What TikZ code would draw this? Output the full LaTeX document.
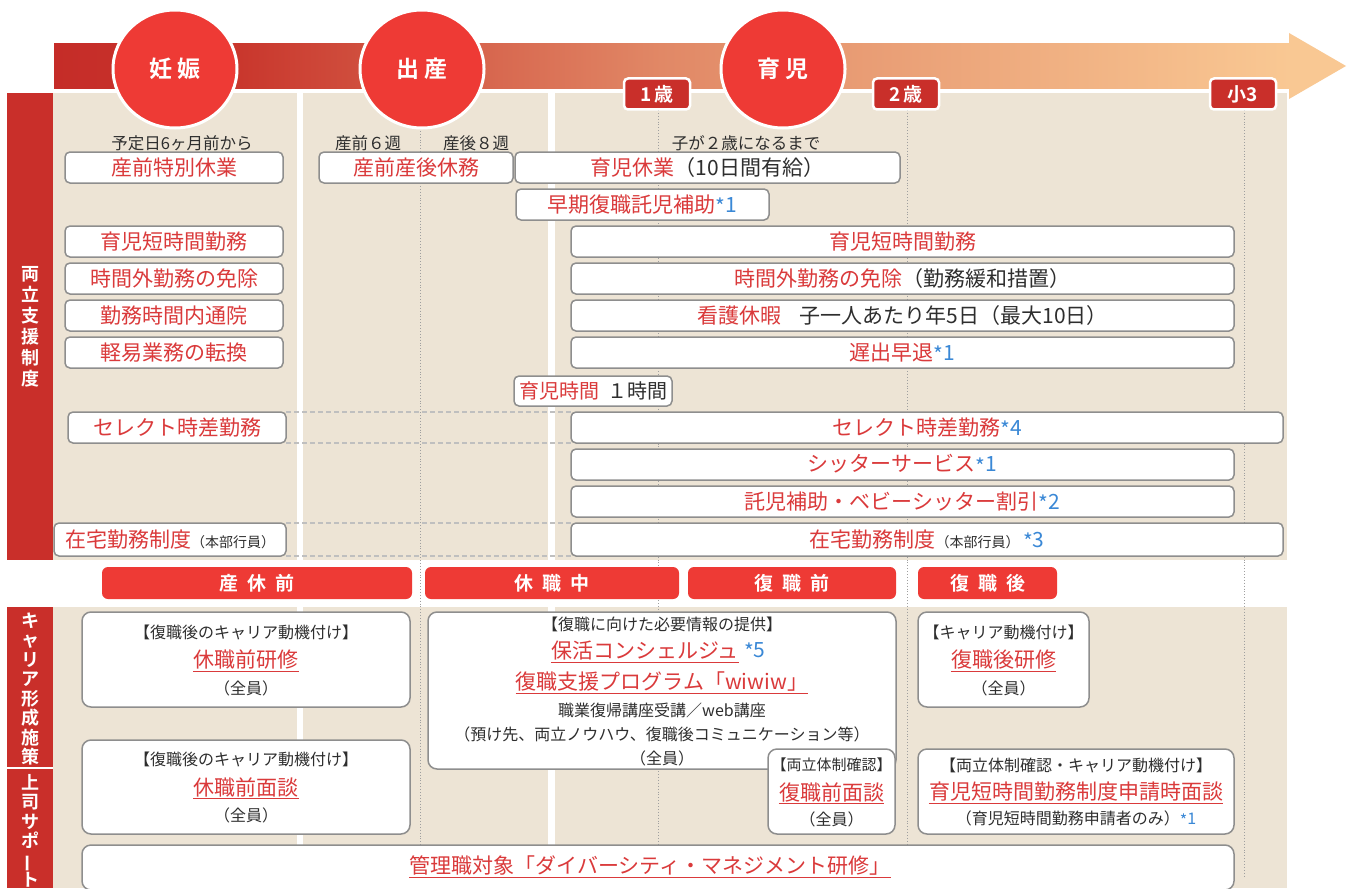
\documentclass[tikz,border=0pt]{standalone}
\usepackage{fontspec}
\usepackage{graphicx}
\setmainfont{Noto Sans CJK JP}[BoldFont={Noto Sans CJK JP Bold}]
\usetikzlibrary{shapes.geometric}
\definecolor{cred}{HTML}{EE3A35}
\definecolor{dred}{HTML}{C92F2A}
\definecolor{beige}{HTML}{EDE4D5}
\definecolor{tred}{HTML}{DA3A3B}
\definecolor{tblue}{HTML}{3A88D6}
\definecolor{bgray}{HTML}{8E8E8E}
\definecolor{tblk}{HTML}{2E2E2E}
\definecolor{gA}{HTML}{C52C28}
\definecolor{gB}{HTML}{C9372D}
\definecolor{gC}{HTML}{E18866}
\definecolor{gD}{HTML}{F9C893}
\tikzset{
  pbox/.style={draw=bgray, line width=1.5pt, fill=white, rounded corners=5pt, inner sep=0pt},
  rl/.style={font=\fontsize{21}{25}\selectfont, text=tred},
  sm/.style={inner sep=0pt, font=\fontsize{16}{19}\selectfont, text=tblk},
  lab/.style={inner sep=0pt, font=\fontsize{16.5}{19}\selectfont, text=tblk},
  ttl/.style={inner sep=0pt, font=\fontsize{21}{25}\selectfont, text=tred},
  circ/.style={ellipse, fill=cred, draw=white, line width=3pt, minimum width=124pt, minimum height=118pt, inner sep=0pt, text=white, font=\fontsize{23}{26}\selectfont\bfseries},
  tag/.style={fill=dred, draw=white, line width=2.5pt, rounded corners=4pt, minimum width=66pt, minimum height=31pt, text=white, font=\fontsize{19}{22}\selectfont\bfseries, inner sep=0pt},
  phase/.style={fill=cred, rounded corners=6pt, minimum height=32pt, text=white, font=\fontsize{19}{22}\selectfont\bfseries, inner sep=0pt},
  vbar/.style={text=white, align=center, inner sep=0pt},
  dotline/.style={draw=gray!75, dotted, line width=0.9pt},
  dashline/.style={draw=gray!50, dashed, line width=1.3pt, dash pattern=on 5pt off 3pt},
}
\newcommand{\mybx}[7][]{\node[pbox, rl, #1, minimum width={(#5-#3)*1pt}, minimum height={(#6-#4)*1pt}] (#2) at ({(#3+#5)/2},{(#4+#6)/2}) {#7};}
\newcommand{\ulnode}[3]{\node[ttl] (#1) at (#2) {#3}; \draw[tred, line width=1.3pt] ([yshift=-1.5pt]#1.south west) -- ([yshift=-1.5pt]#1.south east);}
\newcommand{\nt}[1]{\textcolor{tblue}{\raisebox{-0.12em}{*}#1}}
\newcommand{\smpar}[1]{\textcolor{tblk}{\fontsize{14}{16}\selectfont #1}}
\begin{document}
\begin{tikzpicture}[x=1pt,y=-1pt]
\clip (0,0) rectangle (1348,888);
\fill[white] (0,0) rectangle (1348,888);
% panels
\fill[beige] (53,93) rectangle (297,560);
\fill[beige] (303,93) rectangle (548,560);
\fill[beige] (555,93) rectangle (1287,560);
\fill[beige] (53,607) rectangle (297,888);
\fill[beige] (303,607) rectangle (548,888);
\fill[beige] (555,607) rectangle (1287,888);
\fill[dred] (7,93) rectangle (53,560);
\fill[dred] (7,607) rectangle (53,888);
\draw[white, line width=1.2pt] (7,768) -- (53,768);
% arrow band
\shade[left color=gA, right color=gB] (54,44) rectangle (241,89);
\shade[left color=gB, right color=gC] (240,44) rectangle (661,89);
\shade[left color=gC, right color=gD] (660,44) rectangle (1290,89);
\fill[gD] (1289,33) -- (1346,66) -- (1289,99) -- cycle;
% dotted guide lines
\draw[dotline] (420,125) -- (420,876);
\draw[dotline] (658,110) -- (658,876);
\draw[dotline] (907,110) -- (907,876);
\draw[dotline] (1244,110) -- (1244,876);
% top labels
\node[lab] (t1) at (182,143) {予定日6ヶ月前から};
\node[lab] (t2) at (368,143) {産前６週};
\node[lab] (t3) at (476,143) {産後８週};
\node[lab] (t4) at (746,143) {子が２歳になるまで};
% upper boxes
\mybx{L1}{65}{152}{283}{183}{産前特別休業}
\mybx{L2}{319}{152}{513}{183}{産前産後休務}
\mybx{L3}{515}{152}{900}{183}{育児休業\textcolor{tblk}{（10日間有給）}}
\mybx{L4}{516}{189}{769}{220}{早期復職託児補助\nt{1}}
\mybx{A1}{65}{226}{283}{257}{育児短時間勤務}
\mybx{A2}{65}{263}{283}{294}{時間外勤務の免除}
\mybx{A3}{65}{300}{283}{331}{勤務時間内通院}
\mybx{A4}{65}{337}{283}{368}{軽易業務の転換}
\mybx{B1}{571}{226}{1234}{257}{育児短時間勤務}
\mybx{B2}{571}{263}{1234}{294}{時間外勤務の免除\textcolor{tblk}{（勤務緩和措置）}}
\mybx{B3}{571}{300}{1234}{331}{看護休暇\hspace{0.9em}\textcolor{tblk}{子一人あたり年5日（最大10日）}}
\mybx{B4}{571}{337}{1234}{368}{遅出早退\nt{1}}
\mybx[font=\fontsize{20}{24}\selectfont]{H1}{514}{376}{672}{406}{育児時間\hspace{0.4em}\textcolor{tblk}{１時間}}
\draw[dashline] (286,412) -- (571,412);
\draw[dashline] (286,443) -- (571,443);
\draw[dashline] (286,523) -- (571,523);
\draw[dashline] (286,556) -- (571,556);
\mybx{S1}{68}{412}{286}{443}{セレクト時差勤務}
\mybx{S2}{571}{412}{1283}{443}{セレクト時差勤務\nt{4}}
\mybx{S3}{571}{449}{1234}{480}{シッターサービス\nt{1}}
\mybx{S4}{571}{486}{1234}{517}{託児補助・ベビーシッター割引\nt{2}}
\mybx{W1}{54}{523}{286}{556}{在宅勤務制度\smpar{（本部行員）}}
\mybx{W2}{571}{523}{1283}{556}{在宅勤務制度\smpar{（本部行員）}\,\nt{3}}
% circles and tags
\node[circ] (C1) at (175,69) {妊\hspace{6pt}娠};
\node[circ] (C2) at (422,69) {出\hspace{6pt}産};
\node[circ] (C3) at (783,69) {育\hspace{6pt}児};
\node[tag] (T1) at (657,94) {1\hspace{3pt}歳};
\node[tag] (T2) at (906,94) {2\hspace{3pt}歳};
\node[tag] (T3) at (1243,94) {小3};
% vertical side labels
\node[vbar, font=\fontsize{18}{21}\selectfont\bfseries] (V1) at (30,327) {両\\立\\支\\援\\制\\度};
\node[vbar, font=\fontsize{18}{19.5}\selectfont\bfseries] (V2) at (30,689) {キ\\ャ\\リ\\ア\\形\\成\\施\\策};
\node[vbar, font=\fontsize{18}{19.5}\selectfont\bfseries] (V3) at (30,831) {上\\司\\サ\\ポ\\\rotatebox[origin=c]{90}{ー}\\ト};
% phase bars
\node[phase, minimum width=310pt] (P1) at (257,583) {産\hspace{9pt}休\hspace{9pt}前};
\node[phase, minimum width=254pt] (P2) at (552,583) {休\hspace{9pt}職\hspace{9pt}中};
\node[phase, minimum width=208pt] (P3) at (792,583) {復\hspace{9pt}職\hspace{9pt}前};
\node[phase, minimum width=139pt] (P4) at (987.5,583) {復\hspace{9pt}職\hspace{9pt}後};
% lower boxes
\mybx[rounded corners=9pt]{KA}{82}{612}{410}{707}{}
\node[sm] (KA1) at (246,632) {【復職後のキャリア動機付け】};
\ulnode{KA2}{246,660}{休職前研修}
\node[sm] (KA3) at (246,688) {（全員）};
\mybx[rounded corners=9pt]{KB}{82}{740}{410}{834}{}
\node[sm] (KB1) at (246,759) {【復職後のキャリア動機付け】};
\ulnode{KB2}{246,787}{休職前面談}
\node[sm] (KB3) at (246,815) {（全員）};
\mybx[rounded corners=9pt]{KC}{428}{612}{896}{769}{}
\node[sm] (KC1) at (662,624) {【復職に向けた必要情報の提供】};
\ulnode{KC2}{645,651}{保活コンシェルジュ}
\node[ttl, text=tblue, anchor=west] (KC2b) at ([xshift=5pt]KC2.east) {\raisebox{-0.12em}{*}5};
\ulnode{KC3}{662,682}{復職支援プログラム「wiwiw」}
\node[sm] (KC4) at (662,710) {職業復帰講座受講／web講座};
\node[sm] (KC5) at (662,734) {（預け先、両立ノウハウ、復職後コミュニケーション等）};
\node[sm] (KC6) at (662,758) {（全員）};
\mybx[rounded corners=9pt]{KD}{768}{749}{895}{834}{}
\node[sm, font=\fontsize{15}{18}\selectfont] (KD1) at (831.5,765) {【両立体制確認】};
\ulnode{KD2}{831.5,792}{復職前面談}
\node[sm] (KD3) at (831.5,819) {（全員）};
\mybx[rounded corners=9pt]{KE}{918}{612}{1089}{707}{}
\node[sm] (KE1) at (1003.5,632) {【キャリア動機付け】};
\ulnode{KE2}{1003.5,660}{復職後研修}
\node[sm] (KE3) at (1003.5,688) {（全員）};
\mybx[rounded corners=9pt]{KF}{918}{749}{1234}{834}{}
\node[sm] (KF1) at (1076,765) {【両立体制確認・キャリア動機付け】};
\ulnode{KF2}{1076,792}{育児短時間勤務制度申請時面談}
\node[sm] (KF3) at (1076,819) {（育児短時間勤務申請者のみ）\nt{1}};
\mybx[rounded corners=9pt]{KG}{82}{845}{1234}{890}{}
\ulnode{KG1}{650,866}{管理職対象「ダイバーシティ・マネジメント研修」}
\end{tikzpicture}
\end{document}
